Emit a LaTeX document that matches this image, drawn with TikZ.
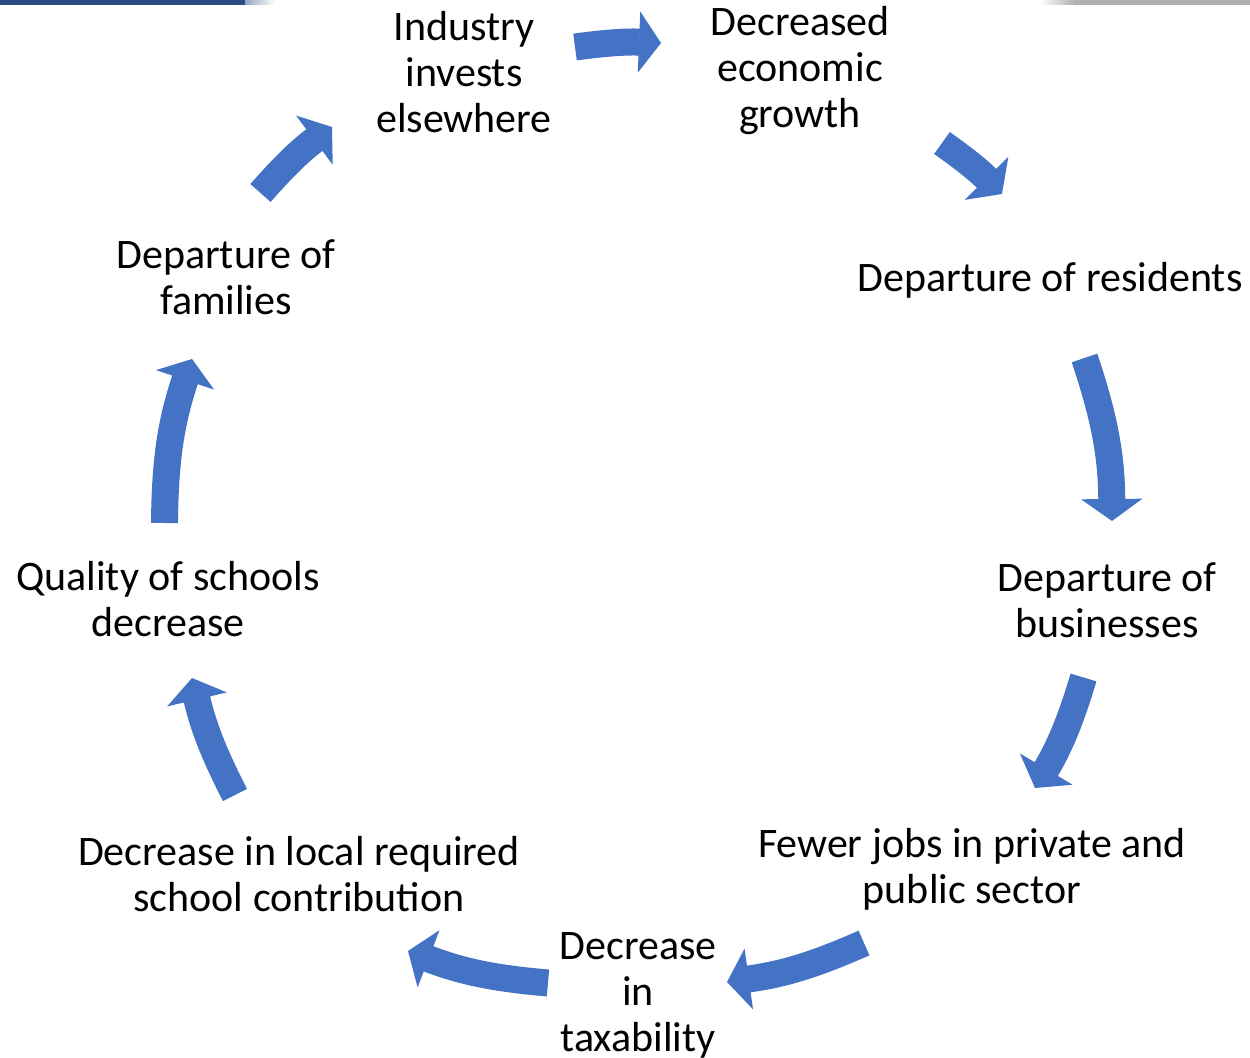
\documentclass[tikz,border=0pt]{standalone}
\usepackage{fontspec}
\setmainfont{Carlito}
\usetikzlibrary{arrows.meta}
\definecolor{flowblue}{HTML}{4472C4}
\definecolor{bannerblue}{HTML}{2A4A80}
\definecolor{bannergrey}{HTML}{AEB0B3}

\begin{document}
\begin{tikzpicture}[x=0.5pt,y=-0.5pt,
  txt/.style={align=center, font=\fontsize{21pt}{23pt}\selectfont, inner sep=0pt},
  flow/.style={draw=flowblue, line width=13.5pt,
    -{Triangle[width=30.5pt,length=11pt,line width=1pt]}},
]
\useasboundingbox (0,0) rectangle (1250,1058);

% thin slide banner strips along the top edge
\fill[bannerblue] (0,0) rectangle (245,5);
\shade[left color=bannerblue!50, right color=white] (245,0) rectangle (275,5);
\shade[left color=white, right color=bannergrey] (1040,0) rectangle (1075,5);
\fill[bannergrey] (1075,0) rectangle (1250,5);

% stages of the cycle
\node[txt] (industry)  at (464,72)   {Industry\\invests\\elsewhere};
\node[txt] (growth)    at (800,71)   {Decreased\\economic\\growth};
\node[txt] (residents) at (1050,280) {Departure of residents};
\node[txt] (business)  at (1107,600) {Departure of\\businesses};
\node[txt] (jobs)      at (972,869)  {Fewer jobs in private and\\public sector};
\node[txt] (tax)       at (638,995)  {Decrease\\in\\taxability};
\node[txt] (contrib)   at (299,874)  {Decrease in local required\\school contribution};
\node[txt] (schools)   at (168,599)  {Quality of schools\\decrease};
\node[txt] (families)  at (226,277)  {Departure of\\families};

% arrow ends (tail, head) between consecutive stages
\coordinate (a1t) at (575,47);    \coordinate (a1h) at (661,43);
\coordinate (a2t) at (942,143);   \coordinate (a2h) at (1002,194);
\coordinate (a3t) at (1084.5,358);\coordinate (a3h) at (1112,521);
\coordinate (a4t) at (1083.5,677.5);\coordinate (a4h) at (1035,788);
\coordinate (a5t) at (864,943);   \coordinate (a5h) at (727,982);
\coordinate (a6t) at (548,983);   \coordinate (a6h) at (408,951);
\coordinate (a7t) at (235,795);   \coordinate (a7h) at (192,678);
\coordinate (a8t) at (164.5,523); \coordinate (a8h) at (192,359);
\coordinate (a9t) at (260.5,193); \coordinate (a9h) at (332,127);

\draw[flow] (a1t) to[bend left=5]  (a1h);
\draw[flow] (a2t) to[bend left=5]  (a2h);
\draw[flow] (a3t) to[bend left=9]  (a3h);
\draw[flow] (a4t) to[bend left=7]  (a4h);
\draw[flow] (a5t) to[bend left=8]  (a5h);
\draw[flow] (a6t) to[bend left=8]  (a6h);
\draw[flow] (a7t) to[bend left=7]  (a7h);
\draw[flow] (a8t) to[bend left=9]  (a8h);
\draw[flow] (a9t) to[bend left=6]  (a9h);
\end{tikzpicture}
\end{document}
